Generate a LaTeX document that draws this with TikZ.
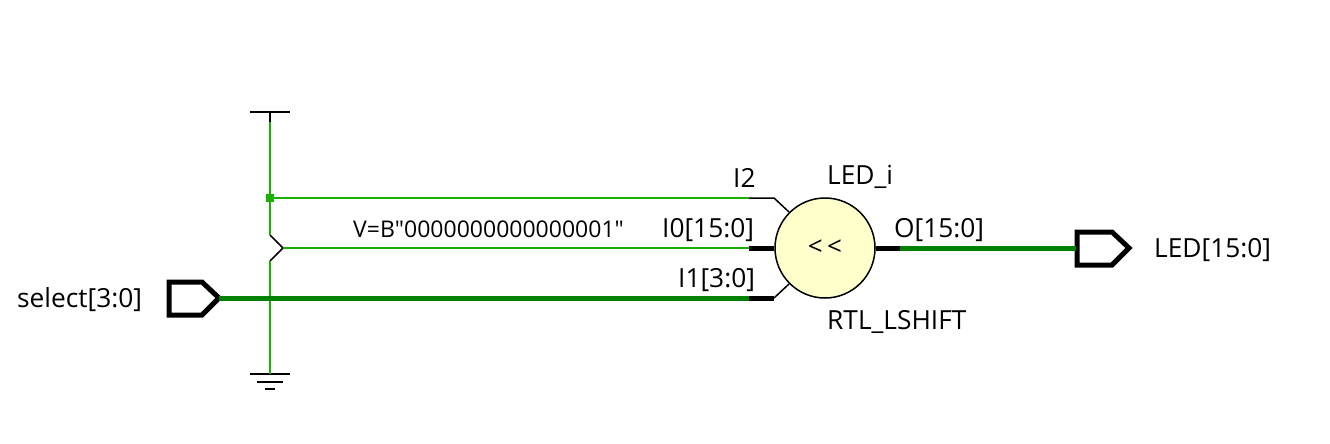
\documentclass[tikz,border=0pt]{standalone}
\usepackage{fontspec}
\setmainfont{Open Sans}
\newfontfamily\valfont{Open Sans}
\usepackage{tikz}
\usetikzlibrary{calc}
\definecolor{netlight}{HTML}{1AB000}
\definecolor{netdark}{HTML}{008000}
\definecolor{cellfill}{HTML}{FFFFCC}
\tikzset{
  lbl/.style={inner sep=0pt, font=\fontsize{26.3}{28}\selectfont, text=black, anchor=base west},
  wire/.style={netlight, line width=2.3pt},
  bus/.style={netdark, line width=5pt},
  pin/.style={black, line width=1.5pt},
  buspin/.style={black, line width=5pt},
  bar/.style={black, line width=2pt},
  port/.style={black, line width=5pt, miter limit=10, fill=white}
}

\begin{document}
\begin{tikzpicture}[x=1pt, y=-1pt]
  \useasboundingbox (0,0) rectangle (1330,444);

  % supply side
  \coordinate (vl) at (250,112);
  \coordinate (vr) at (290,112);
  \coordinate (vt) at (270,112);
  \coordinate (vs) at (270,122);
  \coordinate (j1) at (270,235);
  \coordinate (j2) at (283,248);
  \coordinate (j3) at (270,261);
  \coordinate (gt) at (270,374);
  \coordinate (g1l) at (250,374);
  \coordinate (g1r) at (290,374);
  \coordinate (g2l) at (257,382);
  \coordinate (g2r) at (283,382);
  \coordinate (g3l) at (265,389);
  \coordinate (g3r) at (275,389);
  \node (dot) [fill=netlight, inner sep=0pt, minimum size=8pt] at (270,198) {};

  % shifter
  \node (cell) [circle, draw=black, fill=cellfill, line width=1.5pt, minimum size=100pt, inner sep=0pt, font=\fontsize{26}{28}\selectfont] at (825,248) {<\,<};
  \coordinate (i2a) at (749,198);
  \coordinate (i2b) at (774,198);
  \coordinate (i0a) at (749,248);
  \coordinate (i1a) at (749,298);
  \coordinate (i1b) at (774,298);
  \coordinate (oa) at (900,248);

  % ports
  \coordinate (inl) at (219,298);
  \coordinate (outl) at (1076,248);
  \draw [port] (169,282) -- (202,282) -- (219,298) -- (202,315) -- (169,315) -- cycle;
  \draw [port] (1077,232) -- (1112,232) -- (1129,248) -- (1112,265) -- (1077,265) -- cycle;

  \draw [bar] (vl) -- (vr);
  \draw [bar] (vt) -- (vs);
  \draw [bar] (g1l) -- (g1r);
  \draw [bar] (g2l) -- (g2r);
  \draw [bar] (g3l) -- (g3r);
  \draw [pin] (j1) -- (j2) -- (j3);

  \path [wire]
  (vs) edge (j1)
  (j3) edge (gt)
  (dot) edge (i2a)
  (j2) edge (i0a);

  \path [bus]
  (inl) edge (i1a)
  (oa) edge (outl);

  \draw [pin] (i2a) -- (i2b) -- (cell.135);
  \draw [pin] (i1b) -- (cell.225);
  \draw [buspin] (i0a) -- (cell.west);
  \draw [buspin] (i1a) -- (i1b);
  \draw [buspin] (cell.east) -- (oa);

  % labels
  \node (tsel) [lbl] at (17,307) {select[3:0]};
  \node (tled) [lbl] at (1154,257) {LED[15:0]};
  \node (ti2) [lbl] at (733,187) {I2};
  \node (ti0) [lbl] at (662,237) {I0[15:0]};
  \node (ti1) [lbl] at (678,287) {I1[3:0]};
  \node (to) [lbl] at (894,237) {O[15:0]};
  \node (tname) [lbl] at (827,184) {LED\_i};
  \node (ttype) [lbl] at (827,329) {RTL\_LSHIFT};
  \node (tval) [lbl, font=\fontsize{23}{25}\valfont] at (353,237) {V=B"0000000000000001"};
\end{tikzpicture}
\end{document}
